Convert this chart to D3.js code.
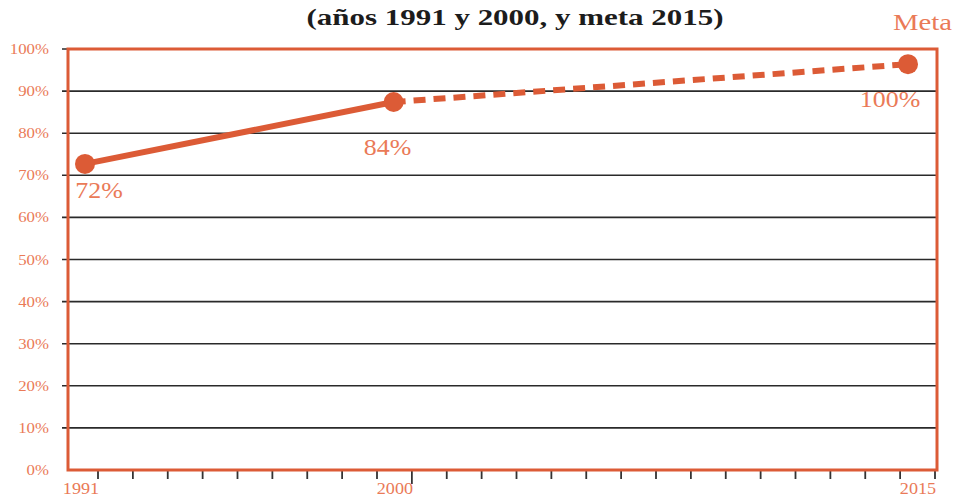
<!DOCTYPE html>
<html>
<head>
<meta charset="utf-8">
<script src="https://cdn.jsdelivr.net/npm/d3@7"></script>
<style>
  html, body { margin: 0; padding: 0; background: #fff; }
  svg { display: block; }
</style>
</head>
<body>
<svg id="chart" width="956" height="500"></svg>
<script>
// ---- data ----
const title = "(años 1991 y 2000, y meta 2015)";
const years = [1991, 2000, 2015];
const values = [72.7, 87.4, 96.4];          // plotted positions (%)
const valueLabels = ["72%", "84%", "100%"];
const yTicks = [0, 10, 20, 30, 40, 50, 60, 70, 80, 90, 100];
const xTickYears = d3.range(1991, 2016);
const xLabelYears = [1991, 2000, 2015];
const metaLabel = "Meta";

// ---- styles ----
const orange = "#dc5b36";
const textOrange = "#ea7a57";
const serif = "'Liberation Serif', 'DejaVu Serif', serif";

const svg = d3.select("#chart");
const plotLeft = 68, plotRight = 937, plotTop = 49, plotBottom = 470;

const y = d3.scaleLinear().domain([0, 100]).range([plotBottom, plotTop]);
const x = d3.scaleLinear().domain([1991, 2015]).range([85, 908]);
const xt = d3.scaleLinear().domain([1991, 2015]).range([98, 935]);

// helper: horizontally stretched text
function stext(g, tx, ty, sx) {
  return g.append("text")
    .attr("transform", `translate(${tx},${ty}) scale(${sx},1)`);
}

// title
stext(svg, 515, 25, 1.29)
  .attr("text-anchor", "middle")
  .attr("font-family", serif).attr("font-weight", "bold")
  .attr("font-size", 24).attr("fill", "#1c1c1c")
  .text(title);

stext(svg, 952, 30, 1.25)
  .attr("text-anchor", "end")
  .attr("font-family", serif).attr("font-size", 23)
  .attr("fill", textOrange)
  .text(metaLabel);

// gridlines
svg.append("g").selectAll("line").data(yTicks.filter(d => d > 0)).join("line")
  .attr("x1", 62).attr("x2", plotRight)
  .attr("y1", d => y(d)).attr("y2", d => y(d))
  .attr("stroke", "#2a2a2a").attr("stroke-width", 1.6);

// y labels
const yl = svg.append("g");
yTicks.forEach(d => {
  stext(yl, 49, y(d) + 5, 1.12)
    .attr("text-anchor", "end")
    .attr("font-family", serif).attr("font-size", 15)
    .attr("fill", textOrange)
    .text(d + "%");
});

// x ticks
svg.append("g").selectAll("line").data(xTickYears).join("line")
  .attr("x1", d => xt(d)).attr("x2", d => xt(d))
  .attr("y1", plotBottom).attr("y2", d => d === 2000 ? plotBottom + 14 : plotBottom + 9)
  .attr("stroke", "#333").attr("stroke-width", 1.8);

// x labels
const xl = svg.append("g");
xLabelYears.forEach(d => {
  stext(xl, xt(d) - 17, 494, 1.1)
    .attr("text-anchor", "middle")
    .attr("font-family", serif).attr("font-size", 16.5)
    .attr("fill", textOrange)
    .text(d);
});

// frame
svg.append("rect")
  .attr("x", plotLeft).attr("y", plotTop)
  .attr("width", plotRight - plotLeft).attr("height", plotBottom - plotTop)
  .attr("fill", "none").attr("stroke", orange).attr("stroke-width", 3);

// lines
const pts = years.map((yr, i) => [x(yr), y(values[i])]);
const line = d3.line();
svg.append("path").attr("d", line(pts.slice(0, 2)))
  .attr("fill", "none").attr("stroke", orange).attr("stroke-width", 6);
svg.append("path").attr("d", line(pts.slice(1, 3)))
  .attr("fill", "none").attr("stroke", orange).attr("stroke-width", 6)
  .attr("stroke-dasharray", "12,8");

// points
svg.append("g").selectAll("circle").data(pts).join("circle")
  .attr("cx", d => d[0]).attr("cy", d => d[1]).attr("r", 10)
  .attr("fill", orange);

// value labels
const labelOffsets = [[14, 34], [-6, 53], [-18, 43]];
const vl = svg.append("g");
pts.forEach((d, i) => {
  stext(vl, d[0] + labelOffsets[i][0], d[1] + labelOffsets[i][1], 1.08)
    .attr("text-anchor", "middle")
    .attr("font-family", serif).attr("font-size", 24)
    .attr("fill", textOrange)
    .text(valueLabels[i]);
});
</script>
</body>
</html>
